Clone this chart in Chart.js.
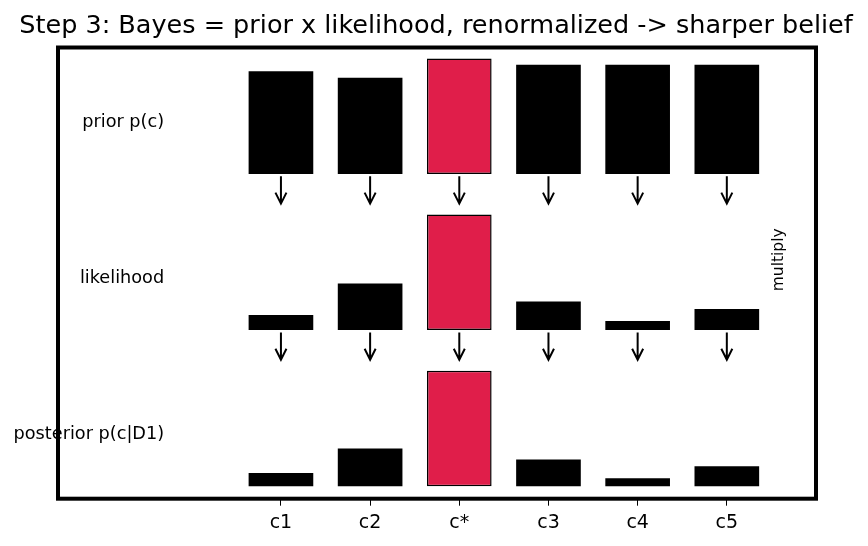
<!DOCTYPE html>
<html lang="en">
<head>
  <meta charset="UTF-8">
  <title>Step 3: Bayes</title>
  <script src="https://cdn.jsdelivr.net/npm/chart.js"></script>
  <style>
    body { margin: 0; background: #fff; }
    #wrap { width: 868px; height: 546px; position: relative; }
  </style>
</head>
<body>
  <div id="wrap"><canvas id="bayesChart"></canvas></div>

  <script>
    // categories and values
    const CATS = ['c1', 'c2', 'c*', 'c3', 'c4', 'c5'];
    const TARGET = 'c*';
    const PRIOR = [0.16, 0.15, 0.18, 0.17, 0.17, 0.17];
    const LIKELIHOOD = [0.10, 0.31, 0.77, 0.19, 0.06, 0.14];
    const POSTERIOR = [0.06, 0.17, 0.52, 0.12, 0.036, 0.09];
    const ROW_LABELS = ['prior p(c)', 'likelihood', 'posterior p(c|D1)'];
    const TITLE = 'Step 3: Bayes = prior x likelihood, renormalized -> sharper belief';

    // layout (data units)
    const ROW_H = 0.74;     // height of the tallest bar in each row
    const RED = '#E01E4A';

    function rowBars(vals, base) {
      const m = Math.max(...vals);
      return vals.map((v, i) => ({ x: i, y: [base, base + ROW_H * v / m] }));
    }

    const colors = CATS.map(c => c === TARGET ? RED : '#000');
    // black bars need no outline (it only leaves seams), the red one gets one
    const borders = CATS.map(c => c === TARGET ? 1.5 : 0);

    function barSet(label, vals, base) {
      return {
        label: label,
        data: rowBars(vals, base),
        backgroundColor: colors,
        borderColor: '#000',
        borderWidth: borders,
        borderSkipped: false,
        barPercentage: 0.725,
        categoryPercentage: 1.0,
        grouped: false
      };
    }

    // rows: prior on top (2), likelihood (1), posterior (0)
    const rows = [
      { label: ROW_LABELS[0], vals: PRIOR, base: 2 },
      { label: ROW_LABELS[1], vals: LIKELIHOOD, base: 1 },
      { label: ROW_LABELS[2], vals: POSTERIOR, base: 0 }
    ];

    // title, text, arrows and the frame
    // (title drawn here so it can run wider than the plot, like the original)
    const extras = {
      id: 'extras',
      afterDatasetsDraw(chart) {
        const c = chart.ctx;
        const xs = chart.scales.x, ys = chart.scales.y;
        c.save();
        c.fillStyle = '#000';

        c.font = '25.5px "DejaVu Sans"';
        c.textAlign = 'center';
        c.textBaseline = 'alphabetic';
        c.fillText(TITLE, chart.width / 2 + 2, 33);

        // row labels
        c.font = '17.7px "DejaVu Sans"';
        c.textAlign = 'right';
        c.textBaseline = 'middle';
        rows.forEach(r => {
          c.fillText(r.label, xs.getPixelForValue(-1.31), ys.getPixelForValue(r.base + 0.33));
        });

        // arrows from a row down to the next
        c.strokeStyle = '#000';
        c.lineWidth = 2;
        [2, 1].forEach(base => {
          CATS.forEach((_, i) => {
            const x = xs.getPixelForValue(i);
            const y1 = ys.getPixelForValue(base - 0.015);
            const y2 = ys.getPixelForValue(base - 0.19);
            c.beginPath();
            c.moveTo(x, y1);
            c.lineTo(x, y2);
            c.moveTo(x - 5.5, y2 - 11);
            c.lineTo(x, y2);
            c.lineTo(x + 5.5, y2 - 11);
            c.stroke();
          });
        });

        // "multiply" side note
        c.save();
        c.translate(xs.getPixelForValue(5.58), ys.getPixelForValue(1.45));
        c.rotate(-Math.PI / 2);
        c.font = '15.5px "DejaVu Sans"';
        c.textAlign = 'center';
        c.textBaseline = 'middle';
        c.fillText('multiply', 0, 0);
        c.restore();

        // axes frame
        const a = chart.chartArea;
        c.lineWidth = 4;
        c.strokeRect(a.left, a.top, a.right - a.left, a.bottom - a.top);
        c.restore();
      }
    };

    Chart.defaults.font.family = '"DejaVu Sans", sans-serif';
    Chart.defaults.color = '#000';

    const ctx = document.getElementById('bayesChart').getContext('2d');
    const bayesChart = new Chart(ctx, {
      type: 'bar',
      data: {
        datasets: rows.map(r => barSet(r.label, r.vals, r.base))
      },
      options: {
        responsive: true,
        maintainAspectRatio: false,
        animation: false,
        layout: { padding: { left: 58, right: 52, top: 47.5, bottom: 5.5 } },
        plugins: {
          legend: { display: false },
          tooltip: { enabled: false },
          title: { display: false }
        },
        scales: {
          x: {
            type: 'linear',
            min: -2.5,
            max: 6,
            offset: false,
            afterBuildTicks: scale => {
              scale.ticks = CATS.map((_, i) => ({ value: i }));
            },
            ticks: {
              font: { size: 19 },
              color: '#000',
              padding: 6,
              maxRotation: 0,
              autoSkip: false,
              callback: (v) => CATS[Math.round(v)]
            },
            grid: {
              offset: false,
              drawOnChartArea: false,
              drawTicks: true,
              tickLength: 7,
              color: '#000',
              lineWidth: 1
            },
            border: { display: false }
          },
          y: {
            display: false,
            min: -0.08,
            max: 2.81
          }
        }
      },
      plugins: [extras]
    });
  </script>
</body>
</html>
